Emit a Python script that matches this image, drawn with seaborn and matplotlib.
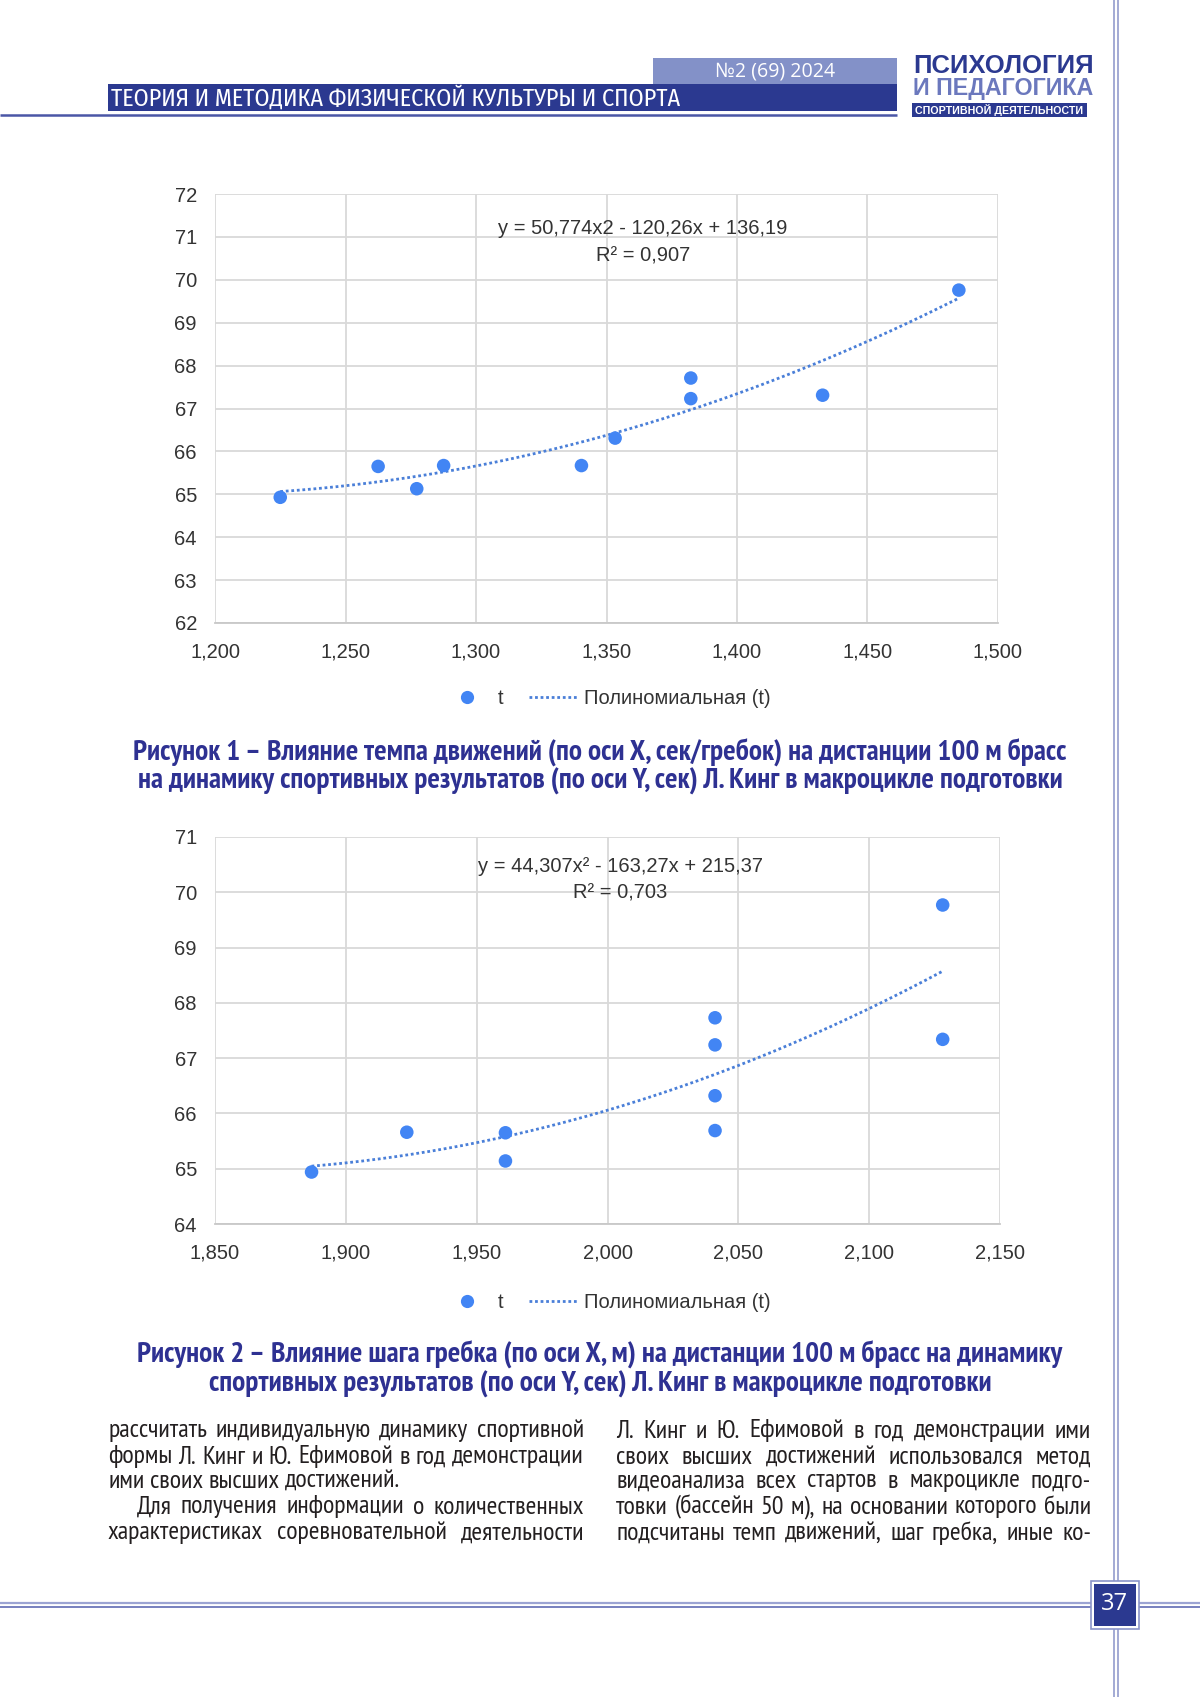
import numpy as np
import pandas as pd
import matplotlib
matplotlib.use("Agg")
import matplotlib.pyplot as plt
import seaborn as sns
from matplotlib.patches import Rectangle
from matplotlib.lines import Line2D

# ---------------- data ----------------
tempo_x = [1.225, 1.2625, 1.2773, 1.2876, 1.3404, 1.3533, 1.3823, 1.3823, 1.4328, 1.4850]
tempo_y = [64.93, 65.65, 65.13, 65.67, 65.67, 66.31, 67.71, 67.23, 67.31, 69.76]
trend1_coef = [50.774, -120.26, 136.19]

stroke_x = [1.8869, 1.9233, 1.961, 1.961, 2.0411, 2.0411, 2.0411, 2.0411, 2.1281, 2.1281]
stroke_y = [64.94, 65.66, 65.65, 65.14, 67.73, 67.24, 66.32, 65.69, 69.77, 67.34]
trend2_coef = [44.307, -163.27, 215.37]

x1_ticks = [1.200, 1.250, 1.300, 1.350, 1.400, 1.450, 1.500]
x1_labels = ["1,200", "1,250", "1,300", "1,350", "1,400", "1,450", "1,500"]
y1_ticks = [62, 63, 64, 65, 66, 67, 68, 69, 70, 71, 72]
x2_ticks = [1.850, 1.900, 1.950, 2.000, 2.050, 2.100, 2.150]
x2_labels = ["1,850", "1,900", "1,950", "2,000", "2,050", "2,100", "2,150"]
y2_ticks = [64, 65, 66, 67, 68, 69, 70, 71]

eq1 = ["y = 50,774x2 - 120,26x + 136,19", "R² = 0,907"]
eq2 = ["y = 44,307x² - 163,27x + 215,37", "R² = 0,703"]
legend_labels = ["t", "Полиномиальная (t)"]

header_issue = "№2 (69) 2024"
header_title = "ТЕОРИЯ И МЕТОДИКА ФИЗИЧЕСКОЙ КУЛЬТУРЫ И СПОРТА"
logo_lines = ["ПСИХОЛОГИЯ", "И ПЕДАГОГИКА", "СПОРТИВНОЙ ДЕЯТЕЛЬНОСТИ"]
caption1 = ["Рисунок 1 – Влияние темпа движений (по оси X, сек/гребок) на дистанции 100 м брасс",
            "на динамику спортивных результатов (по оси Y, сек) Л. Кинг в макроцикле подготовки"]
caption2 = ["Рисунок 2 – Влияние шага гребка (по оси X, м) на дистанции 100 м брасс на динамику",
            "спортивных результатов (по оси Y, сек) Л. Кинг в макроцикле подготовки"]
body_left = ["рассчитать индивидуальную динамику спортивной",
             "формы Л. Кинг и Ю. Ефимовой в год демонстрации",
             "ими своих высших достижений.",
             "Для получения информации о количественных",
             "характеристиках соревновательной деятельности"]
body_right = ["Л. Кинг и Ю. Ефимовой в год демонстрации ими",
              "своих высших достижений использовался метод",
              "видеоанализа всех стартов в макроцикле подго-",
              "товки (бассейн 50 м), на основании которого были",
              "подсчитаны темп движений, шаг гребка, иные ко-"]
page_number = "37"

# ---------------- style ----------------
W, H = 1200, 1697
DARK = "#2b3990"
LIGHT = "#8391c8"
LINE_C = "#8a93c9"
CAP_C = "#2e3192"
PT_C = "#4285f4"
TR_C = "#4a7fd8"
GRID_C = "#d9d9d9"
TXT_C = "#333333"
CHART_FONT = ["Liberation Sans", "DejaVu Sans"]
PAGE_FONT = ["Open Sans", "DejaVu Sans"]
NARROW_FONT = ["PT Sans Narrow", "Roboto Condensed", "DejaVu Sans"]
TITLE_FONT = ["Fira Sans Condensed", "PT Sans Narrow", "DejaVu Sans"]

plt.rcParams["font.family"] = CHART_FONT

fig = plt.figure(figsize=(W / 100, H / 100), dpi=100)
fig.patch.set_facecolor("white")
renderer = fig.canvas.get_renderer()

bg = fig.add_axes([0, 0, 1, 1], zorder=0)
bg.set_xlim(0, W)
bg.set_ylim(H, 0)
bg.axis("off")


def px_axes(l, t, r, b):
    return [l / W, 1 - b / H, (r - l) / W, (b - t) / H]


def text_width(s, fs, **kw):
    t = bg.text(0, 0, s, fontsize=fs, **kw)
    w = t.get_window_extent(renderer).width
    t.remove()
    return w


def fit_text(s, x, y, target_w, base=12, **kw):
    fs = base * target_w / text_width(s, base, **{k: v for k, v in kw.items()
                                                   if k in ("family", "weight")})
    return bg.text(x, y, s, fontsize=fs, **kw)


def justify(line, x0, x1, y, fs, indent=0, last=False, **kw):
    words = line.split(" ")
    widths = [text_width(wd, fs, **kw) for wd in words]
    if last or len(words) == 1:
        gap = text_width("a b", fs, **kw) - text_width("ab", fs, **kw)
    else:
        gap = (x1 - x0 - indent - sum(widths)) / (len(words) - 1)
    x = x0 + indent
    for wd, w in zip(words, widths):
        bg.text(x, y, wd, fontsize=fs, ha="left", va="center", **kw)
        x += w + gap


# ---------------- page frame ----------------
for xv in (1113.5, 1117.5):
    bg.plot([xv, xv], [0, H], color=LINE_C, lw=1.1, solid_capstyle="butt", zorder=1)
bg.plot([0, W], [1603, 1603], color="#9ca4d3", lw=1.6, zorder=1)
bg.plot([0, W], [1606.5, 1606.5], color="#6c76ba", lw=1.3, zorder=1)

bg.add_patch(Rectangle((1091, 1581), 48, 48, facecolor="white", edgecolor=LINE_C, lw=1.2, zorder=2))
bg.add_patch(Rectangle((1094, 1584), 42, 42, facecolor=DARK, edgecolor="none", zorder=3))
bg.text(1115, 1604, page_number, color="white", fontsize=17, family=PAGE_FONT,
        ha="center", va="center", zorder=4)

# ---------------- header ----------------
bg.add_patch(Rectangle((653, 58), 244, 26, facecolor=LIGHT, edgecolor="none"))
bg.add_patch(Rectangle((108, 84), 789, 27, facecolor=DARK, edgecolor="none"))
bg.plot([0, 897], [114.5, 114.5], color="#4a56a6", lw=1.8, solid_capstyle="butt")
fit_text(header_issue, 775, 71, 120, color="white", family=PAGE_FONT, ha="center", va="center")
fit_text(header_title, 111, 98, 569, color="white", family=TITLE_FONT, ha="left", va="center")
fit_text(logo_lines[0], 913, 66, 180, color=DARK, family=CHART_FONT, weight="bold",
         ha="left", va="center")
fit_text(logo_lines[1], 913, 88, 180, color="#6b78bd", family=CHART_FONT, weight="bold",
         ha="left", va="center")
bg.add_patch(Rectangle((912, 103), 175, 14, facecolor=DARK, edgecolor="none"))
fit_text(logo_lines[2], 999.5, 110.5, 166, color="white", family=CHART_FONT, weight="bold",
         ha="center", va="center")


# ---------------- charts ----------------
def draw_chart(rect, xs, ys, coef, xt, xl, yt, eq, eq_xy, leg_y):
    ax = fig.add_axes(px_axes(*rect), zorder=5)
    ax.set_facecolor("none")
    xx = np.linspace(min(xs), max(xs), 300)
    yy = np.polyval(coef, xx)
    sns.lineplot(x=xx, y=yy, ax=ax, color=TR_C, linewidth=2.0, linestyle=(0, (1, 1)),
                 zorder=3, legend=False)
    sns.scatterplot(x=xs, y=ys, ax=ax, color=PT_C, s=95, edgecolor="none", zorder=4,
                    legend=False)
    ax.set_xlim(xt[0], xt[-1])
    ax.set_ylim(yt[0], yt[-1])
    ax.set_xticks(xt)
    ax.set_xticklabels(xl)
    ax.set_yticks(yt)
    ax.set_yticklabels([str(v) for v in yt])
    ax.grid(True, color=GRID_C, lw=1.3)
    ax.set_axisbelow(True)
    for sp in ["top", "right", "left"]:
        ax.spines[sp].set_visible(False)
    ax.spines["bottom"].set_color("#c8c8c8")
    ax.spines["bottom"].set_linewidth(1.3)
    ax.tick_params(length=0, labelsize=14.5, labelcolor=TXT_C)
    ax.tick_params(axis="x", pad=14)
    ax.tick_params(axis="y", pad=13)
    ax.set_xlabel("")
    ax.set_ylabel("")
    for k, s in enumerate(eq):
        ax.text(eq_xy[0], eq_xy[1] + 27 * k, s, transform=bg.transData, fontsize=14.5,
                color=TXT_C, ha="center", va="center", zorder=6, clip_on=False)
    handles = [Line2D([], [], marker="o", color=PT_C, linestyle="none", markersize=9.5,
                      markeredgewidth=0),
               Line2D([], [], color=TR_C, linestyle=(0, (1, 1)), lw=2.0)]
    fig.legend(handles, legend_labels, loc="center left",
               bbox_to_anchor=(433 / W, 1 - leg_y / H), ncol=2, frameon=False,
               fontsize=14.5, handlelength=2.4, handletextpad=0.3, columnspacing=1.3,
               borderpad=0, labelcolor=TXT_C)
    return ax


draw_chart((215, 194, 998, 623), tempo_x, tempo_y, trend1_coef, x1_ticks, x1_labels,
           y1_ticks, eq1, (643, 229), 699)
draw_chart((215, 837, 1000, 1224), stroke_x, stroke_y, trend2_coef, x2_ticks, x2_labels,
           y2_ticks, eq2, (620, 866), 1303)

# ---------------- captions ----------------
cap_kw = dict(family=NARROW_FONT, weight="bold")
cap_fs = 12 * 931 / text_width(caption1[0], 12, **cap_kw)
for s, y in zip(caption1, (753, 781)):
    bg.text(600, y, s, fontsize=cap_fs, color=CAP_C, ha="center", va="center", **cap_kw)
for s, y in zip(caption2, (1355, 1384)):
    bg.text(600, y, s, fontsize=cap_fs, color=CAP_C, ha="center", va="center", **cap_kw)

# ---------------- body text ----------------
body_fs = 12 * 293 / text_width(body_left[2], 12, family=NARROW_FONT)
ys = [1431, 1457, 1481, 1507, 1533]
for i, (line, y) in enumerate(zip(body_left, ys)):
    justify(line, 108, 584, y, body_fs, indent=29 if i == 3 else 0, last=(i == 2),
            family=NARROW_FONT, color="#231f20")
for line, y in zip(body_right, ys):
    justify(line, 616, 1091, y, body_fs, family=NARROW_FONT, color="#231f20")

fig.savefig("out.png", dpi=100, facecolor="white")
